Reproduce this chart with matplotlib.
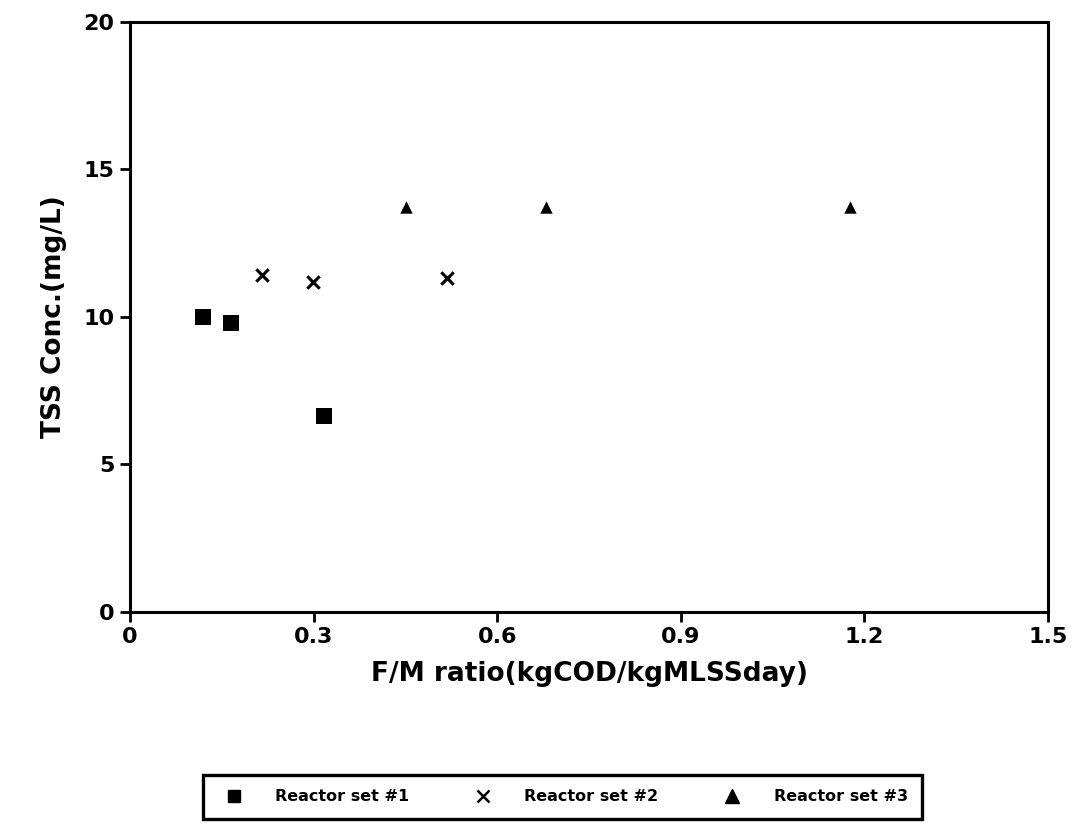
import matplotlib
matplotlib.use("Agg")
import matplotlib.pyplot as plt
from matplotlib.lines import Line2D

plt.rcParams['font.family'] = ['DejaVu Sans']
plt.rcParams['font.weight'] = 'bold'

# F/M ratio (kgCOD/kgMLSSday) vs TSS concentration (mg/L)
set1_fm = [0.119, 0.165, 0.317]
set1_tss = [10.0, 9.8, 6.65]
set2_fm = [0.216, 0.299, 0.518]
set2_tss = [11.42, 11.19, 11.32]
set3_fm = [0.451, 0.680, 1.176]
set3_tss = [13.73, 13.73, 13.73]

series_labels = ["Reactor set #1", "Reactor set #2", "Reactor set #3"]
x_ticks = [0, 0.3, 0.6, 0.9, 1.2, 1.5]
x_tick_labels = ["0", "0.3", "0.6", "0.9", "1.2", "1.5"]
y_ticks = [0, 5, 10, 15, 20]

fig = plt.figure(figsize=(10.79, 8.3), dpi=100)
ax = fig.add_axes([0.1205, 0.2627, 0.8508, 0.7108])

ax.scatter(set1_fm, set1_tss, marker='s', s=120, color='black', linewidths=0)
ax.scatter(set2_fm, set2_tss, marker='x', s=80, color='black', linewidths=2.2)
ax.scatter(set3_fm, set3_tss, marker='^', s=80, color='black', linewidths=0)

ax.set_xlim(0, 1.5)
ax.set_ylim(0, 20)
ax.set_xticks(x_ticks)
ax.set_xticklabels(x_tick_labels)
ax.set_yticks(y_ticks)
for sp in ax.spines.values():
    sp.set_linewidth(2.2)
ax.tick_params(direction='out', length=7, width=2, labelsize=16, pad=4)
for lab in ax.get_xticklabels() + ax.get_yticklabels():
    lab.set_fontweight('bold')

ax.set_xlabel("F/M ratio(kgCOD/kgMLSSday)", fontsize=19, fontweight='bold', labelpad=10)
ax.set_ylabel("TSS Conc.(mg/L)", fontsize=19, fontweight='bold', labelpad=12)

handles = [
    Line2D([], [], marker='s', color='black', linestyle='none', markersize=9),
    Line2D([], [], marker='x', color='black', linestyle='none', markersize=9, markeredgewidth=1.8),
    Line2D([], [], marker='^', color='black', linestyle='none', markersize=10),
]
leg = fig.legend(handles, series_labels, loc='center', bbox_to_anchor=(0.5215, 0.0398),
                 ncol=3, frameon=True, fancybox=False, edgecolor='black', framealpha=1,
                 prop={'size': 11.5, 'weight': 'bold'}, handletextpad=1.6,
                 columnspacing=3.6, borderpad=0.9, borderaxespad=0)
leg.get_frame().set_linewidth(2.4)

fig.savefig("out.png", dpi=100)
